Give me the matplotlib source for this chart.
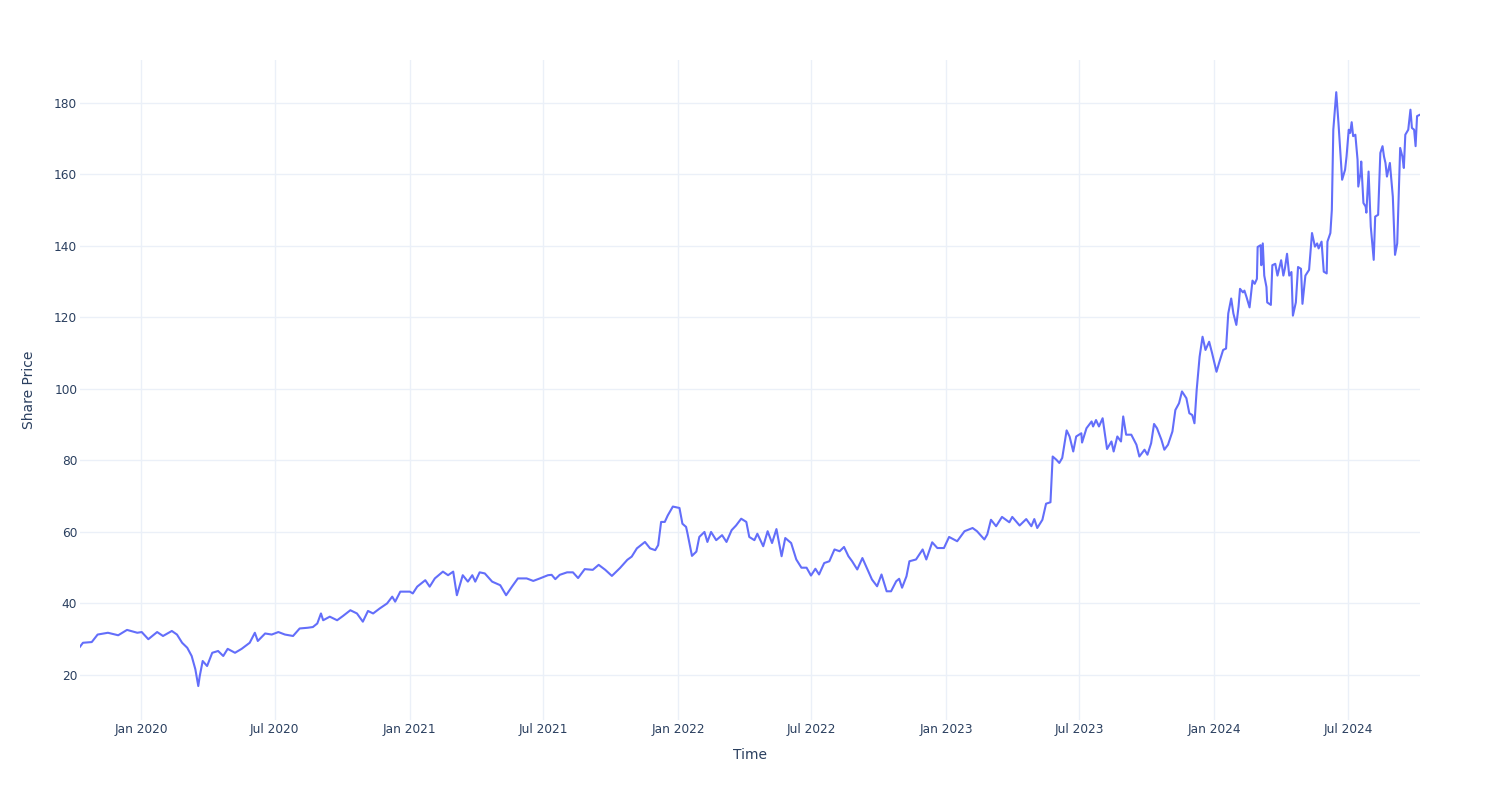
import matplotlib
matplotlib.use('Agg')
import matplotlib.pyplot as plt
import matplotlib.dates as mdates
import pandas as pd

# share price readings (date, close)
dates = [
    '2019-10-10', '2019-10-14', '2019-10-26', '2019-11-03', '2019-11-17', '2019-12-01',
    '2019-12-13', '2019-12-27', '2020-01-02', '2020-01-11', '2020-01-23', '2020-01-31',
    '2020-02-12', '2020-02-19', '2020-02-26', '2020-03-04', '2020-03-10', '2020-03-15',
    '2020-03-19', '2020-03-21', '2020-03-25', '2020-03-31', '2020-04-07', '2020-04-15',
    '2020-04-22', '2020-04-28', '2020-05-08', '2020-05-17', '2020-05-28', '2020-06-04',
    '2020-06-08', '2020-06-18', '2020-06-27', '2020-07-06', '2020-07-15', '2020-07-26',
    '2020-08-04', '2020-08-15', '2020-08-22', '2020-08-28', '2020-09-02', '2020-09-05',
    '2020-09-14', '2020-09-24', '2020-10-02', '2020-10-12', '2020-10-21', '2020-10-29',
    '2020-11-05', '2020-11-12', '2020-11-21', '2020-12-01', '2020-12-08', '2020-12-12',
    '2020-12-19', '2021-01-01', '2021-01-05', '2021-01-11', '2021-01-22', '2021-01-28',
    '2021-02-04', '2021-02-15', '2021-02-22', '2021-03-01', '2021-03-06', '2021-03-14',
    '2021-03-21', '2021-03-27', '2021-03-31', '2021-04-06', '2021-04-13', '2021-04-23',
    '2021-05-04', '2021-05-12', '2021-05-20', '2021-05-28', '2021-06-09', '2021-06-18',
    '2021-06-27', '2021-07-08', '2021-07-13', '2021-07-18', '2021-07-24', '2021-08-03',
    '2021-08-11', '2021-08-18', '2021-08-27', '2021-09-07', '2021-09-15', '2021-09-24',
    '2021-10-03', '2021-10-14', '2021-10-24', '2021-10-30', '2021-11-06', '2021-11-17',
    '2021-11-24', '2021-12-01', '2021-12-05', '2021-12-09', '2021-12-14', '2021-12-18',
    '2021-12-25', '2022-01-03', '2022-01-07', '2022-01-12', '2022-01-14', '2022-01-20',
    '2022-01-26', '2022-01-30', '2022-02-06', '2022-02-10', '2022-02-15', '2022-02-22',
    '2022-03-02', '2022-03-08', '2022-03-15', '2022-03-21', '2022-03-28', '2022-04-04',
    '2022-04-08', '2022-04-15', '2022-04-19', '2022-04-27', '2022-05-03', '2022-05-09',
    '2022-05-15', '2022-05-22', '2022-05-27', '2022-06-04', '2022-06-11', '2022-06-18',
    '2022-06-25', '2022-07-01', '2022-07-07', '2022-07-12', '2022-07-19', '2022-07-26',
    '2022-08-02', '2022-08-09', '2022-08-15', '2022-08-21', '2022-08-26', '2022-09-02',
    '2022-09-09', '2022-09-16', '2022-09-22', '2022-09-29', '2022-10-05', '2022-10-12',
    '2022-10-18', '2022-10-25', '2022-10-29', '2022-11-02', '2022-11-08', '2022-11-12',
    '2022-11-21', '2022-11-30', '2022-12-05', '2022-12-13', '2022-12-20', '2022-12-29',
    '2023-01-05', '2023-01-16', '2023-01-26', '2023-02-06', '2023-02-12', '2023-02-22',
    '2023-02-26', '2023-03-03', '2023-03-10', '2023-03-18', '2023-03-28', '2023-04-01',
    '2023-04-11', '2023-04-20', '2023-04-27', '2023-05-01', '2023-05-05', '2023-05-12',
    '2023-05-17', '2023-05-23', '2023-05-26', '2023-05-31', '2023-06-04', '2023-06-08',
    '2023-06-14', '2023-06-18', '2023-06-23', '2023-06-27', '2023-07-04', '2023-07-05',
    '2023-07-11', '2023-07-18', '2023-07-20', '2023-07-24', '2023-07-28', '2023-08-02',
    '2023-08-04', '2023-08-08', '2023-08-14', '2023-08-17', '2023-08-22', '2023-08-27',
    '2023-08-30', '2023-09-03', '2023-09-10', '2023-09-17', '2023-09-21', '2023-09-28',
    '2023-10-02', '2023-10-07', '2023-10-11', '2023-10-15', '2023-10-21', '2023-10-25',
    '2023-10-30', '2023-11-05', '2023-11-09', '2023-11-14', '2023-11-18', '2023-11-24',
    '2023-11-28', '2023-12-02', '2023-12-05', '2023-12-08', '2023-12-12', '2023-12-16',
    '2023-12-20', '2023-12-25', '2023-12-29', '2024-01-04', '2024-01-08', '2024-01-13',
    '2024-01-17', '2024-01-20', '2024-01-24', '2024-01-27', '2024-01-31', '2024-02-03',
    '2024-02-05', '2024-02-09', '2024-02-11', '2024-02-14', '2024-02-18', '2024-02-22',
    '2024-02-25', '2024-02-28', '2024-02-29', '2024-03-04', '2024-03-05', '2024-03-07',
    '2024-03-09', '2024-03-12', '2024-03-13', '2024-03-18', '2024-03-20', '2024-03-24',
    '2024-03-27', '2024-04-01', '2024-04-04', '2024-04-06', '2024-04-09', '2024-04-12',
    '2024-04-15', '2024-04-17', '2024-04-21', '2024-04-24', '2024-04-28', '2024-04-30',
    '2024-05-04', '2024-05-09', '2024-05-13', '2024-05-17', '2024-05-20', '2024-05-22',
    '2024-05-26', '2024-05-29', '2024-06-02', '2024-06-03', '2024-06-07', '2024-06-09',
    '2024-06-11', '2024-06-15', '2024-06-18', '2024-06-21', '2024-06-23', '2024-06-27',
    '2024-06-29', '2024-07-02', '2024-07-04', '2024-07-06', '2024-07-08', '2024-07-11',
    '2024-07-14', '2024-07-15', '2024-07-18', '2024-07-19', '2024-07-22', '2024-07-25',
    '2024-07-26', '2024-07-29', '2024-08-01', '2024-08-02', '2024-08-05', '2024-08-07',
    '2024-08-11', '2024-08-14', '2024-08-17', '2024-08-19', '2024-08-21', '2024-08-23',
    '2024-08-27', '2024-08-29', '2024-08-31', '2024-09-03', '2024-09-06', '2024-09-10',
    '2024-09-13', '2024-09-15', '2024-09-17', '2024-09-21', '2024-09-24', '2024-09-26',
    '2024-09-29', '2024-10-01', '2024-10-03', '2024-10-07',
]
prices = [
    27.9, 29.0, 29.2, 31.3, 31.8, 31.1,
    32.6, 31.8, 32.0, 30.0, 32.0, 30.9,
    32.3, 31.3, 29.0, 27.6, 25.3, 21.6,
    16.9, 19.7, 23.9, 22.5, 26.2, 26.7,
    25.3, 27.3, 26.2, 27.3, 29.0, 31.8,
    29.5, 31.6, 31.3, 32.0, 31.3, 30.9,
    33.0, 33.2, 33.4, 34.4, 37.2, 35.3,
    36.3, 35.3, 36.5, 38.1, 37.2, 34.9,
    37.9, 37.2, 38.6, 40.0, 41.9, 40.5,
    43.3, 43.3, 42.8, 44.7, 46.5, 44.7,
    47.0, 48.9, 47.9, 48.9, 42.3, 47.9,
    46.1, 47.9, 46.1, 48.7, 48.4, 46.1,
    45.1, 42.3, 44.7, 47.0, 47.0, 46.3,
    47.0, 47.9, 48.0, 46.8, 48.0, 48.7,
    48.7, 47.1, 49.6, 49.4, 50.8, 49.4,
    47.7, 49.9, 52.2, 53.1, 55.4, 57.2,
    55.4, 54.9, 56.3, 62.8, 62.8, 64.6,
    67.1, 66.7, 62.3, 61.4, 59.5, 53.3,
    54.5, 58.6, 60.0, 57.2, 60.0, 57.7,
    59.1, 57.2, 60.5, 61.8, 63.7, 62.8,
    58.6, 57.7, 59.5, 56.0, 60.2, 56.9,
    60.8, 53.2, 58.3, 56.9, 52.3, 50.0,
    50.0, 47.8, 49.7, 48.1, 51.3, 51.8,
    55.1, 54.6, 55.8, 53.2, 51.8, 49.5,
    52.7, 49.5, 46.7, 44.8, 48.1, 43.4,
    43.4, 46.2, 46.9, 44.4, 47.6, 51.8,
    52.3, 55.1, 52.3, 57.1, 55.5, 55.5,
    58.6, 57.4, 60.2, 61.1, 60.2, 57.9,
    59.3, 63.4, 61.6, 64.2, 62.7, 64.2,
    61.8, 63.6, 61.6, 63.6, 61.1, 63.4,
    67.9, 68.3, 81.1, 80.2, 79.3, 80.7,
    88.4, 86.7, 82.5, 86.7, 87.6, 85.0,
    89.0, 90.9, 89.5, 91.3, 89.5, 91.8,
    89.0, 83.2, 85.3, 82.5, 86.7, 85.3,
    92.3, 87.2, 87.2, 84.4, 81.1, 83.0,
    81.6, 84.8, 90.2, 89.0, 85.8, 83.0,
    84.4, 88.1, 94.1, 96.0, 99.3, 97.4,
    93.2, 92.7, 90.4, 99.7, 109.0, 114.6,
    110.9, 113.2, 110.0, 104.8, 107.6, 110.9,
    111.3, 121.1, 125.3, 121.1, 117.9, 123.0,
    128.0, 127.0, 127.5, 125.6, 122.8, 130.3,
    129.4, 130.8, 139.7, 140.2, 134.6, 140.7,
    131.7, 128.5, 124.2, 123.5, 134.6, 135.0,
    131.7, 136.0, 131.7, 133.6, 137.8, 131.7,
    132.7, 120.5, 124.2, 134.1, 133.6, 123.8,
    131.7, 133.3, 143.6, 139.8, 140.7, 139.3,
    141.2, 132.8, 132.3, 141.2, 143.6, 150.1,
    172.5, 183.0, 174.4, 165.0, 158.5, 161.3,
    165.0, 172.5, 171.6, 174.6, 170.7, 171.1,
    164.1, 156.6, 160.4, 163.6, 152.0, 151.0,
    149.3, 160.8, 145.4, 143.1, 136.1, 148.2,
    148.7, 166.0, 167.9, 165.0, 163.2, 159.4,
    163.2, 158.5, 153.8, 137.5, 140.7, 167.4,
    165.0, 161.8, 171.1, 172.5, 178.1, 173.0,
    172.5, 167.9, 176.3, 176.7,
]

ytick_values = [20, 40, 60, 80, 100, 120, 140, 160, 180]

df = pd.DataFrame({'Time': pd.to_datetime(dates), 'Share Price': prices})

text_color = '#2a3f5f'
grid_color = '#EBF0F8'

fig = plt.figure(figsize=(15, 8), dpi=100)
ax = fig.add_axes([80 / 1500, 80 / 800, 1340 / 1500, 660 / 800])

ax.plot(df['Time'], df['Share Price'], color='#636EFA', linewidth=1.5, zorder=3)

ax.set_xlim(df['Time'].min(), df['Time'].max())
ax.set_ylim(7.4, 192)

ax.xaxis.set_major_locator(mdates.MonthLocator(bymonth=[1, 7]))
ax.xaxis.set_major_formatter(mdates.DateFormatter('%b %Y'))
ax.set_yticks(ytick_values)

ax.grid(True, color=grid_color, linewidth=1)
ax.set_axisbelow(True)
for s in ax.spines.values():
    s.set_visible(False)

ax.tick_params(axis='both', length=0, labelsize=8.7, labelcolor=text_color)
ax.tick_params(axis='x', pad=2)
ax.tick_params(axis='y', pad=2)

ax.set_xlabel('Time', fontsize=10, color=text_color, labelpad=9)
ax.set_ylabel('Share Price', fontsize=10, color=text_color, labelpad=13)

fig.savefig('out.png', dpi=100, facecolor='white')
